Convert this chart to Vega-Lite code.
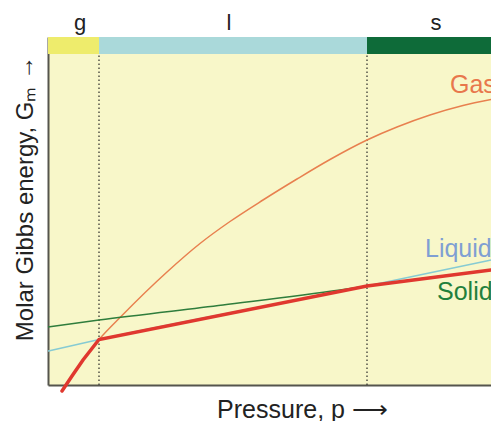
{
  "$schema": "https://vega.github.io/schema/vega-lite/v6.json",
  "width": 443,
  "height": 348,
  "autosize": {"type": "none"},
  "padding": {"left": 48, "top": 37, "right": 0, "bottom": 36},
  "background": "#ffffff",
  "config": {
    "view": {"stroke": null, "fill": "#f8f7c9"},
    "font": "Liberation Sans"
  },
  "datasets": {
    "bands": [
      {"phase": "g", "p": 0, "p2": 51},
      {"phase": "l", "p": 51, "p2": 319},
      {"phase": "s", "p": 319, "p2": 443}
    ],
    "bandLetters": [
      {"phase": "g", "p": 32, "g": 355},
      {"phase": "l", "p": 181, "g": 355},
      {"phase": "s", "p": 388, "g": 355}
    ],
    "transitions": [{"p": 51}, {"p": 319}],
    "curves": [
      {"series": "Gas", "p": 14, "g": -6},
      {"series": "Gas", "p": 24, "g": 9},
      {"series": "Gas", "p": 35, "g": 25},
      {"series": "Gas", "p": 51, "g": 45.5},
      {"series": "Gas", "p": 74, "g": 69.5},
      {"series": "Gas", "p": 119, "g": 113},
      {"series": "Gas", "p": 152, "g": 141.5},
      {"series": "Gas", "p": 182, "g": 163.5},
      {"series": "Gas", "p": 215, "g": 185},
      {"series": "Gas", "p": 249, "g": 206},
      {"series": "Gas", "p": 282, "g": 225.5},
      {"series": "Gas", "p": 319, "g": 245},
      {"series": "Gas", "p": 349, "g": 258},
      {"series": "Gas", "p": 382, "g": 270},
      {"series": "Gas", "p": 415, "g": 279.5},
      {"series": "Gas", "p": 443, "g": 285.5},
      {"series": "Liquid", "p": 0, "g": 34},
      {"series": "Liquid", "p": 51, "g": 45.5},
      {"series": "Liquid", "p": 319, "g": 99},
      {"series": "Liquid", "p": 443, "g": 125},
      {"series": "Solid", "p": 0, "g": 58},
      {"series": "Solid", "p": 51, "g": 65},
      {"series": "Solid", "p": 175, "g": 80},
      {"series": "Solid", "p": 292, "g": 95},
      {"series": "Solid", "p": 319, "g": 99},
      {"series": "Solid", "p": 443, "g": 115}
    ],
    "stable": [
      {"p": 14, "g": -6},
      {"p": 24, "g": 9},
      {"p": 35, "g": 25},
      {"p": 51, "g": 45.5},
      {"p": 319, "g": 99},
      {"p": 443, "g": 115}
    ],
    "labels": [
      {"series": "Gas", "p": 402, "g": 292},
      {"series": "Liquid", "p": 377, "g": 128},
      {"series": "Solid", "p": 389, "g": 85}
    ]
  },
  "layer": [
    {
      "data": {"name": "bands"},
      "mark": {"type": "rect"},
      "encoding": {
        "x": {
          "field": "p", "type": "quantitative",
          "scale": {"domain": [0, 443], "nice": false, "zero": false},
          "axis": {
            "title": "Pressure, p ⟶",
            "domain": true, "domainColor": "#55554d", "domainWidth": 2,
            "ticks": false, "labels": false, "grid": false,
            "titleFont": "Liberation Sans", "titleFontSize": 25, "titleFontWeight": "normal",
            "titleColor": "#222222", "titleX": 254, "titleY": 32,
            "titleBaseline": "alphabetic", "titleAlign": "center"
          }
        },
        "x2": {"field": "p2"},
        "y": {
          "datum": 331, "type": "quantitative",
          "scale": {"domain": [0, 348], "nice": false, "zero": false},
          "axis": {
            "title": "Molar Gibbs energy, Gₘ →",
            "domain": true, "domainColor": "#55554d", "domainWidth": 2,
            "ticks": false, "labels": false, "grid": false,
            "titleFont": "Liberation Sans", "titleFontSize": 24, "titleFontWeight": "normal",
            "titleColor": "#222222", "titleX": -16, "titleY": 161, "titleAngle": -90,
            "titleBaseline": "alphabetic", "titleAlign": "center"
          }
        },
        "y2": {"datum": 348},
        "color": {
          "field": "phase", "type": "nominal", "legend": null,
          "scale": {"domain": ["g", "l", "s"], "range": ["#eeec6c", "#aad9da", "#0e6b39"]}
        }
      }
    },
    {
      "data": {"name": "transitions"},
      "mark": {"type": "rule", "color": "#3a3a35", "strokeWidth": 1.3, "strokeDash": [1.5, 2.5]},
      "encoding": {
        "x": {"field": "p", "type": "quantitative"},
        "y": {"datum": 0, "type": "quantitative"},
        "y2": {"datum": 331}
      }
    },
    {
      "data": {"name": "curves"},
      "mark": {"type": "line", "interpolate": "monotone", "strokeWidth": 1.5},
      "encoding": {
        "x": {"field": "p", "type": "quantitative"},
        "y": {"field": "g", "type": "quantitative"},
        "detail": {"field": "series"},
        "color": {
          "field": "series", "type": "nominal", "legend": null,
          "scale": {"domain": ["Gas", "Liquid", "Solid"], "range": ["#e8804f", "#86cbd3", "#2f7d3c"]}
        }
      }
    },
    {
      "data": {"name": "stable"},
      "mark": {"type": "line", "interpolate": "linear", "strokeWidth": 3.5, "color": "#e0382f", "strokeCap": "round"},
      "encoding": {
        "x": {"field": "p", "type": "quantitative"},
        "y": {"field": "g", "type": "quantitative"}
      }
    },
    {
      "data": {"name": "labels"},
      "mark": {"type": "text", "align": "left", "baseline": "alphabetic", "fontSize": 25, "clip": true, "font": "Liberation Sans"},
      "encoding": {
        "x": {"field": "p", "type": "quantitative"},
        "y": {"field": "g", "type": "quantitative"},
        "text": {"field": "series"},
        "color": {
          "field": "series", "type": "nominal", "legend": null,
          "scale": {"domain": ["Gas", "Liquid", "Solid"], "range": ["#e8774c", "#7f9fd3", "#22803c"]}
        }
      }
    },
    {
      "data": {"name": "bandLetters"},
      "mark": {"type": "text", "align": "center", "baseline": "alphabetic", "fontSize": 22, "color": "#222222", "font": "Liberation Sans"},
      "encoding": {
        "x": {"field": "p", "type": "quantitative"},
        "y": {"field": "g", "type": "quantitative"},
        "text": {"field": "phase"}
      }
    }
  ],
  "resolve": {"scale": {"color": "independent"}}
}
